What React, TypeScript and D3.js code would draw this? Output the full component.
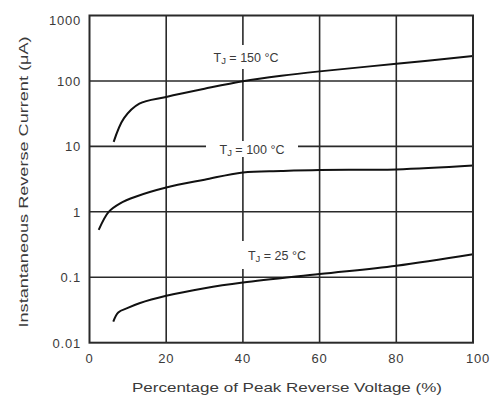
import * as d3 from "d3";

const xTicks = [0, 20, 40, 60, 80, 100];
const yTicks = [0.01, 0.1, 1, 10, 100, 1000];
const yTickLabels = ["0.01", "0.1", "1", "10", "100", "1000"];

const pct150 = [6.3, 9, 13, 20, 30, 40, 50, 60, 80, 100];
const cur150 = [11.7, 27, 45, 57, 76, 99, 120, 140, 183, 240];

const pct100 = [2.4, 5, 8, 12, 20, 30, 40, 50, 60, 80, 100];
const cur100 = [0.53, 1.0, 1.35, 1.7, 2.35, 3.1, 4.0, 4.2, 4.35, 4.45, 5.1];

const pct25 = [6.2, 7.5, 10, 13, 20, 30, 40, 60, 80, 100];
const cur25 = [0.021, 0.029, 0.034, 0.04, 0.052, 0.068, 0.083, 0.112, 0.15, 0.225];

const series = [
  { temp: "150", pct: pct150, cur: cur150 },
  { temp: "100", pct: pct100, cur: cur100 },
  { temp: "25", pct: pct25, cur: cur25 },
];

export default function App() {
  const left = 89.5, right = 473, top = 15.5, bottom = 342.7;
  const x = d3.scaleLinear().domain([0, 100]).range([left, right]);
  const y = d3.scaleLog().domain([0.01, 1000]).range([bottom, top]);

  const line = d3
    .line<[number, number]>()
    .x((d) => x(d[0]))
    .y((d) => y(d[1]))
    .curve(d3.curveCatmullRom.alpha(0.5));

  const font = "'Liberation Sans', Arial, sans-serif";
  const textColor = "#3a3a3a";

  // label boxes that hide the grid behind them
  const labels = [
    { temp: "150", cx: 246, cy: 57, w: 86, h: 24 },
    { temp: "100", cx: 252, cy: 149, w: 92, h: 16 },
    { temp: "25", cx: 277, cy: 255, w: 78, h: 28 },
  ];

  return (
    <svg width={493} height={404} style={{ position: "absolute", left: 0, top: 0 }}>
      <rect width={493} height={404} fill="#fff" />
      {/* grid */}
      {xTicks.slice(1, -1).map((t) => (
        <line key={"gx" + t} x1={x(t)} x2={x(t)} y1={top} y2={bottom} stroke="#2a2a2a" strokeWidth={1.6} />
      ))}
      {yTicks.slice(1, -1).map((t) => (
        <line key={"gy" + t} x1={left} x2={right} y1={y(t)} y2={y(t)} stroke="#2a2a2a" strokeWidth={1.6} />
      ))}
      {/* label backgrounds */}
      {labels.map((l) => (
        <rect key={"bg" + l.temp} x={l.cx - l.w / 2} y={l.cy - l.h / 2} width={l.w} height={l.h} fill="#fff" />
      ))}
      {/* curves */}
      {series.map((s) => (
        <path
          key={s.temp}
          d={line(s.pct.map((p, i) => [p, s.cur[i]] as [number, number])) || ""}
          fill="none"
          stroke="#111"
          strokeWidth={2}
        />
      ))}
      {/* frame */}
      <rect x={left} y={top} width={right - left} height={bottom - top} fill="none" stroke="#2a2a2a" strokeWidth={2} />
      {/* curve labels */}
      {labels.map((l) => (
        <text
          key={"lb" + l.temp}
          x={l.cx}
          y={l.cy + 4.5}
          textAnchor="middle"
          fontFamily={font}
          fontSize={12.5}
          fill={textColor}
        >
          T<tspan fontSize={9.5} dy={2}>J</tspan>
          <tspan dy={-2}>{" = " + l.temp + " °C"}</tspan>
        </text>
      ))}
      {/* y tick labels */}
      {yTicks.map((t, i) => (
        <text
          key={"yl" + t}
          x={81}
          y={y(t) + (t === 1000 ? 9 : 5)}
          textAnchor="end"
          fontFamily={font}
          fontSize={13}
          letterSpacing={0.8}
          fill={textColor}
        >
          {yTickLabels[i]}
        </text>
      ))}
      {/* x tick labels */}
      {xTicks.map((t) => (
        <text
          key={"xl" + t}
          x={x(t) + (t === 100 ? 5 : 0)}
          y={363}
          textAnchor="middle"
          fontFamily={font}
          fontSize={13}
          letterSpacing={0.8}
          fill={textColor}
        >
          {t}
        </text>
      ))}
      <text
        x={287}
        y={392}
        textAnchor="middle"
        fontFamily={font}
        fontSize={13.5}
        textLength={310}
        lengthAdjust="spacingAndGlyphs"
        fill={textColor}
      >
        Percentage of Peak Reverse Voltage (%)
      </text>
      <text
        transform={`translate(28,182) rotate(-90)`}
        textAnchor="middle"
        fontFamily={font}
        fontSize={13.5}
        textLength={291}
        lengthAdjust="spacingAndGlyphs"
        fill={textColor}
      >
        Instantaneous Reverse Current (μA)
      </text>
    </svg>
  );
}
